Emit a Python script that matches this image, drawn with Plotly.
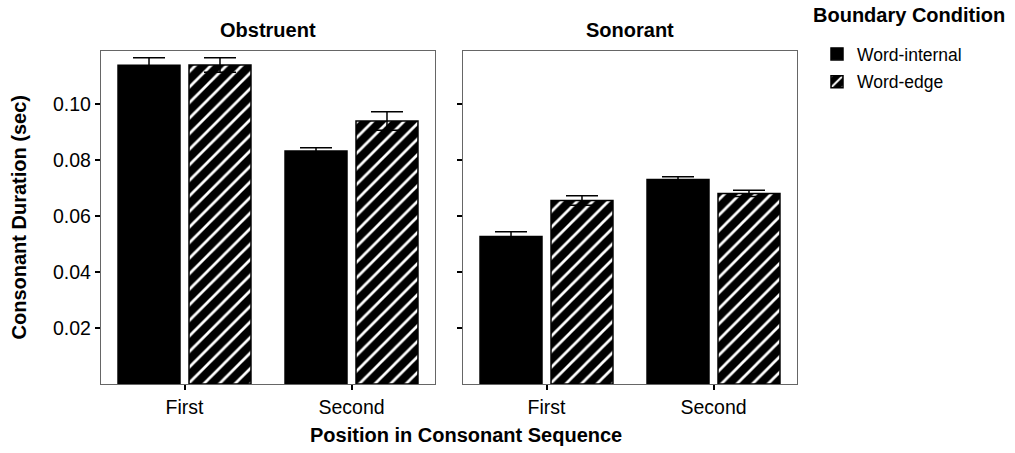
import plotly.graph_objects as go

positions = ["First", "Second"]
panels = ["Obstruent", "Sonorant"]
conditions = ["Word-internal", "Word-edge"]

obstruent_internal = [0.1139, 0.0833]
obstruent_internal_err = [0.0027, 0.0011]
obstruent_edge = [0.1140, 0.0940]
obstruent_edge_err = [0.0026, 0.0033]

sonorant_internal = [0.0527, 0.0731]
sonorant_internal_err = [0.0017, 0.0010]
sonorant_edge = [0.0656, 0.0681]
sonorant_edge_err = [0.0017, 0.0011]

yticks = [0.02, 0.04, 0.06, 0.08, 0.10]

FONT = "Liberation Sans, Arial, sans-serif"

fig = go.Figure()

data = [
    ("x", "y", obstruent_internal, obstruent_internal_err, obstruent_edge, obstruent_edge_err, True),
    ("x2", "y2", sonorant_internal, sonorant_internal_err, sonorant_edge, sonorant_edge_err, False),
]

for xa, ya, vi, ei, ve, ee, show in data:
    fig.add_trace(go.Bar(
        x=positions, y=vi, name=conditions[0], xaxis=xa, yaxis=ya,
        legendgroup="internal", showlegend=show,
        marker=dict(color="black", line=dict(color="black", width=1.5)),
        error_y=dict(type="data", array=ei, color="black", thickness=1.5, width=16),
    ))
    fig.add_trace(go.Bar(
        x=positions, y=ve, name=conditions[1], xaxis=xa, yaxis=ya,
        legendgroup="edge", showlegend=show,
        marker=dict(color="black", line=dict(color="black", width=1.5),
                    pattern=dict(shape="/", fgcolor="white", bgcolor="black",
                                 size=11, solidity=0.25, fillmode="replace")),
        error_y=dict(type="data", array=ee, color="black", thickness=1.5, width=16),
    ))

axis_common = dict(showline=True, mirror=True, linecolor="#666666", linewidth=1.3,
                   showgrid=False, zeroline=False, ticks="outside", ticklen=5,
                   tickwidth=2, tickcolor="black",
                   tickfont=dict(family=FONT, size=19.5, color="black"))

W, H = 1015, 453
L, R, T, B = 101, 218, 51, 69
pw = W - L - R
ph = H - T - B

fig.update_layout(
    width=W, height=H, autosize=False,
    margin=dict(l=L, r=R, t=T, b=B, autoexpand=False),
    paper_bgcolor="white", plot_bgcolor="white",
    barmode="group", bargap=0.15, bargroupgap=0.127,
    font=dict(family=FONT, color="black"),
    xaxis=dict(domain=[0, 334 / pw], type="category", range=[-0.5, 1.5], anchor="y", **axis_common),
    xaxis2=dict(domain=[362 / pw, 1], type="category", range=[-0.5, 1.5], anchor="y2", **axis_common),
    yaxis=dict(range=[0, 0.119], tickvals=yticks, tickformat=".2f", anchor="x", **axis_common),
    yaxis2=dict(range=[0, 0.119], tickvals=yticks, tickformat=".2f", anchor="x2",
                showticklabels=False, **axis_common),
    legend=dict(x=(817 - L) / pw, y=(H - B - 36) / ph, xanchor="left", yanchor="top",
                font=dict(family=FONT, size=17.5), tracegroupgap=2, bgcolor="rgba(0,0,0,0)"),
    showlegend=True,
)

annotations = [
    dict(text="<b>Obstruent</b>", x=167 / pw, y=1, xref="paper", yref="paper",
         xanchor="center", yanchor="bottom", yshift=8, showarrow=False,
         font=dict(family=FONT, size=20)),
    dict(text="<b>Sonorant</b>", x=(362 + 167) / pw, y=1, xref="paper", yref="paper",
         xanchor="center", yanchor="bottom", yshift=8, showarrow=False,
         font=dict(family=FONT, size=20)),
    dict(text="<b>Position in Consonant Sequence</b>", x=(466 - L) / pw, y=0, xref="paper", yref="paper",
         xanchor="center", yanchor="middle", yshift=-(435 - 384), showarrow=False,
         font=dict(family=FONT, size=20)),
    dict(text="<b>Consonant Duration (sec)</b>", x=0, y=0.5, xref="paper", yref="paper",
         xanchor="center", yanchor="middle", xshift=-(L - 18), textangle=-90, showarrow=False,
         font=dict(family=FONT, size=20)),
    dict(text="<b>Boundary Condition</b>", x=(811 - L) / pw, y=(H - B - 15) / ph, xref="paper", yref="paper",
         xanchor="left", yanchor="middle", showarrow=False,
         font=dict(family=FONT, size=20)),
]
fig.update_layout(annotations=annotations)

fig.write_html("out.html", config={"displayModeBar": False},
               post_script="document.body.style.margin='0px';")
